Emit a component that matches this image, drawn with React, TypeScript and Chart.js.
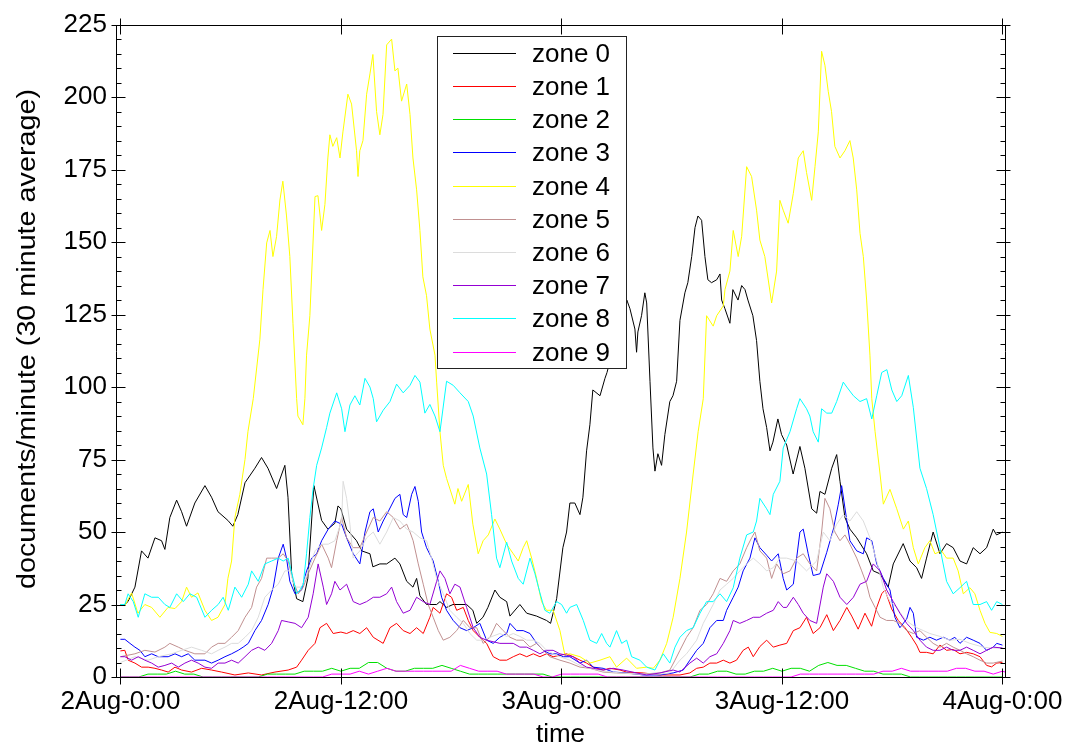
import React, { useEffect, useRef } from "react";
import { Chart, registerables } from "chart.js";

Chart.register(...registerables);

// ---------- axis text ----------
const xTickHours = [0, 12, 24, 36, 48];
const xTickLabels = ["2Aug-0:00", "2Aug-12:00", "3Aug-0:00", "3Aug-12:00", "4Aug-0:00"];
const yTickValues = [0, 25, 50, 75, 100, 125, 150, 175, 200, 225];

const zoneNames = ["zone 0", "zone 1", "zone 2", "zone 3", "zone 4", "zone 5", "zone 6", "zone 7", "zone 8", "zone 9"];
const zoneColors = ["#000000", "#ff0000", "#00e000", "#0000ff", "#ffff00", "#c09090", "#dcdcdc", "#9400d3", "#00ffff", "#ff00ff"];

// ---------- data: documents/minute (30 minute average); time in hours since 2Aug-0:00 ----------
const zone0Time = [
  0, 0.24, 0.41, 0.79, 1.15, 1.5, 1.88, 2.24, 2.42, 2.69, 3.06, 3.33, 3.6, 4.05, 4.6, 4.96, 5.31, 5.85, 6.12, 6.39,
  6.78, 7.32, 7.68, 8.03, 8.5, 8.95, 9.12, 9.32, 9.59, 9.93, 10.2, 10.53, 10.95, 11.29, 11.67, 11.84, 12.0, 12.31, 12.85, 13.13,
  13.58, 13.74, 14.12, 14.49, 14.94, 15.21, 15.58, 15.92, 16.12, 16.3, 16.66, 17.21, 17.39, 17.75, 18.1, 18.84, 19.18, 19.39, 19.73, 20.0,
  20.38, 20.65, 21.02, 21.2, 21.74, 22.11, 22.65, 23.19, 23.41, 23.74, 24.08, 24.28, 24.46, 24.73, 25.01, 25.17, 25.37, 25.55, 25.71, 26.1,
  26.37, 26.48, 27.02, 27.56, 27.73, 28.0, 28.09, 28.16, 28.36, 28.54, 28.64, 28.82, 28.98, 29.09, 29.25, 29.45, 29.63, 29.9, 30.07, 30.27,
  30.45, 30.72, 30.88, 31.09, 31.27, 31.43, 31.63, 31.81, 31.97, 32.17, 32.45, 32.63, 32.72, 32.9, 33.17, 33.33, 33.61, 33.81, 33.99, 34.15,
  34.42, 34.62, 34.8, 34.97, 35.17, 35.35, 35.51, 35.78, 35.98, 36.26, 36.61, 36.98, 37.25, 37.62, 37.89, 38.07, 38.34, 38.71, 38.98, 39.16,
  39.43, 39.7, 40.07, 40.61, 40.97, 41.33, 41.78, 42.06, 42.6, 42.97, 43.33, 43.6, 43.87, 44.23, 44.6, 44.96, 45.32, 45.69, 46.05, 46.41,
  46.78, 47.14, 47.5, 47.68, 48.0,
];
const zone0 = [
  25, 25, 26, 31, 43.5, 41, 48, 47, 44, 55, 61, 57, 52, 60, 66, 62, 57, 54, 52, 56,
  67, 72, 75.7, 72, 65, 73, 62, 35.6, 27, 26, 34, 66, 54, 51, 53, 59, 58, 51, 47, 43.5,
  42.5, 38, 39, 39, 41, 39, 33, 31, 34, 28, 25, 25, 26, 24, 25, 25, 23, 18.5, 20.6, 24,
  30, 27.5, 26, 21, 25, 22, 21, 19.5, 18.5, 27, 44.6, 50, 60, 60, 56, 62, 78, 87, 99, 97,
  103, 105, 118, 130, 127, 120, 112, 119, 124.6, 132.5, 129, 102, 79, 71, 77, 73, 83.6, 95, 97, 102,
  123, 132.5, 136, 145, 155, 159, 157.5, 145, 137, 136, 137, 139, 130, 127, 122, 133.6, 130, 135, 133.6, 130,
  124.6, 116, 102, 92.5, 86, 78, 81, 89, 83.6, 80, 70, 79.5, 72, 58, 56.5, 64, 63, 72, 76.7, 67.5,
  55, 51, 48, 42.5, 36.6, 35.6, 31, 39, 46, 40, 37.7, 34, 41, 50, 42.5, 46, 44.6, 40, 39, 44.6,
  42.5, 44.6, 51, 49, 50,
];

// [time, value] readings
const zone1: [number, number][] = [
  [0, 9], [0.24, 9.2], [0.42, 5.8], [0.79, 4.8], [1.15, 3.4], [1.51, 3.4], [1.88, 3], [2.24, 2.4], [2.6, 1.7], [2.97, 3.4],
  [3.33, 2.4], [3.87, 1.7], [4.42, 3], [4.96, 2.4], [5.51, 1.7], [6.23, 0.7], [6.96, 1.4], [7.68, 0.7], [8.41, 1.7], [9.13, 2.4],
  [9.59, 3.4], [9.86, 5.8], [10.22, 9.2], [10.59, 11.6], [10.86, 17], [11.22, 18.5], [11.58, 15], [12.0, 15.5], [12.31, 15], [12.67, 16],
  [13.03, 15], [13.4, 17], [13.76, 13.7], [14.3, 11.6], [14.67, 17], [15.03, 18.5], [15.39, 16], [15.76, 15], [16.12, 17], [16.48, 15],
  [16.84, 20.6], [17.02, 24], [17.39, 22], [17.75, 28.7], [18.02, 27.5], [18.3, 23], [18.66, 24], [18.93, 19.5], [19.2, 16], [19.56, 13.7],
  [19.93, 11.6], [20.29, 7], [20.65, 5.8], [21.02, 5.8], [21.38, 7], [21.74, 8], [22.11, 7], [22.47, 8], [22.83, 7], [23.19, 8],
  [23.55, 7], [23.92, 7.5], [24.28, 8], [24.64, 7], [25.01, 5.8], [25.37, 4.8], [25.73, 3.4], [26.27, 2.4], [26.64, 3], [27.19, 2.4],
  [27.55, 1.7], [28.45, 1.4], [29.36, 0.7], [30.45, 0.7], [30.99, 1.4], [31.36, 3], [31.72, 3.4], [32.08, 4.8], [32.45, 4.8], [32.81, 5.8],
  [33.17, 4.8], [33.53, 5.8], [33.89, 9.2], [34.17, 10.3], [34.44, 7], [34.8, 10.5], [35.17, 12.7], [35.53, 10.3], [35.89, 11], [36.26, 11.6],
  [36.62, 16], [36.98, 17], [37.34, 20.6], [37.7, 15], [38.07, 17], [38.44, 21.5], [38.8, 16], [39.16, 19.5], [39.53, 24], [39.8, 21],
  [40.15, 16.5], [40.52, 22], [40.88, 17.5], [41.16, 24], [41.43, 28.7], [41.61, 30], [41.97, 23.5], [42.33, 19.5], [42.7, 17], [43.06, 13.7],
  [43.33, 11], [43.51, 8.5], [43.87, 8.5], [44.23, 8], [44.6, 11], [44.96, 9.2], [45.32, 9.5], [45.69, 8], [46.05, 8.5], [46.41, 8],
  [46.78, 7], [47.14, 4], [47.41, 3.5], [47.69, 4.8], [48.0, 5],
];

// one value per half hour, 2Aug-0:00 .. 4Aug-0:00
const zone2 = [
  0, 0, 0, 1, 1, 1, 2, 1, 1, 0, 0, 0, 0, 0, 0, 0, 1, 1, 1, 1, 2, 2, 2, 3,
  2, 3, 3, 5, 5, 3, 2, 2, 3, 3, 3, 4, 3, 2, 1, 1, 1, 1, 1, 1, 1, 1, 1, 0,
  0, 0, 0, 0, 0, 0, 0, 0, 0, 0, 0, 0, 0, 0, 0, 1, 1, 2, 2, 1, 1, 2, 2, 3,
  2, 3, 3, 2, 4, 5, 4, 4, 3, 2, 2, 1, 1, 1, 0, 0, 0, 0, 0, 0, 0, 0, 0, 0, 0,
];

const zone3: [number, number][] = [
  [0, 13], [0.24, 13], [0.52, 11.6], [0.79, 10.3], [1.06, 9.2], [1.33, 7], [1.7, 8], [2.06, 7], [2.6, 7], [2.97, 8],
  [3.33, 7], [3.69, 8], [4.05, 5.8], [4.6, 5.8], [4.96, 4.8], [5.32, 5.8], [5.69, 7], [6.05, 8], [6.41, 9.2], [6.68, 10.3],
  [6.96, 11.6], [7.32, 16], [7.68, 19.5], [8.04, 25], [8.32, 31], [8.59, 41], [8.86, 45.8], [9.04, 41], [9.22, 33], [9.5, 28.7],
  [9.86, 30], [10.13, 36.6], [10.41, 41], [10.68, 42.5], [10.95, 47], [11.31, 51], [11.67, 53.8], [12.04, 52.7], [12.31, 48], [12.67, 42.5],
  [13.03, 39], [13.31, 50], [13.58, 57], [13.76, 58], [14.03, 50], [14.3, 53.8], [14.57, 57], [14.94, 61.6], [15.21, 63], [15.39, 56],
  [15.58, 55], [15.85, 63], [16.03, 65.7], [16.21, 60.6], [16.39, 50], [16.66, 44.6], [17.02, 40], [17.3, 33], [17.48, 27.5], [17.75, 23],
  [18.11, 19.5], [18.48, 17], [18.84, 16], [19.2, 17], [19.56, 18.5], [19.93, 12.7], [20.29, 11.6], [20.65, 13.7], [21.02, 15], [21.2, 18.5],
  [21.56, 16], [21.92, 16], [22.29, 15], [22.65, 11.6], [23.01, 9.2], [23.37, 8], [23.74, 8], [24.1, 7], [24.46, 7], [25.01, 4.8],
  [25.37, 5.8], [25.73, 3.4], [26.27, 3], [26.82, 1.7], [27.55, 1.4], [28.45, 0.7], [29.36, 0.7], [30.08, 1.4], [30.63, 2.4], [30.99, 5.8],
  [31.36, 9.2], [31.72, 11.6], [32.08, 17], [32.45, 19.5], [32.81, 19.5], [32.99, 23], [33.35, 27.5], [33.62, 31], [33.89, 36.6], [34.26, 41],
  [34.53, 48], [34.8, 44.6], [35.17, 42], [35.44, 40], [35.8, 42.5], [36.07, 34], [36.26, 30], [36.62, 32], [36.98, 50], [37.16, 51],
  [37.43, 42.5], [37.7, 35], [38.07, 35.6], [38.44, 43], [38.8, 51], [39.07, 59.6], [39.25, 66], [39.53, 54], [39.7, 47], [40.07, 43.5],
  [40.43, 42.5], [40.61, 48], [40.89, 47], [41.16, 39], [41.52, 34], [41.88, 30], [42.15, 20.6], [42.42, 17], [42.79, 20], [42.97, 24],
  [43.15, 22], [43.33, 13.7], [43.7, 12.7], [44.05, 13.7], [44.41, 12.7], [44.78, 13.7], [45.14, 12.7], [45.41, 13.7], [45.69, 11.6], [46.05, 13.7],
  [46.41, 12.7], [46.78, 11.6], [47.14, 9.2], [47.5, 10.3], [47.69, 11.6], [48.0, 11],
];

const zone4Time = [
  0, 0.24, 0.61, 0.95, 1.33, 1.7, 2.15, 2.59, 2.97, 3.33, 3.6, 3.87, 4.22, 4.6, 4.96, 5.31, 5.69, 5.85, 6.05, 6.23,
  6.5, 6.78, 6.94, 7.23, 7.59, 7.76, 7.96, 8.14, 8.3, 8.5, 8.68, 8.84, 9.04, 9.22, 9.39, 9.59, 9.66, 9.93, 10.04, 10.13,
  10.31, 10.59, 10.75, 10.95, 11.13, 11.29, 11.4, 11.56, 11.77, 11.95, 12.11, 12.38, 12.58, 12.85, 12.93, 13.03, 13.2, 13.4, 13.58, 13.74,
  13.94, 14.12, 14.29, 14.49, 14.76, 14.94, 15.1, 15.3, 15.58, 15.76, 15.92, 16.12, 16.3, 16.46, 16.66, 16.84, 17.12, 17.21, 17.39, 17.57,
  17.75, 18.2, 18.37, 18.57, 18.93, 19.18, 19.47, 19.74, 20.02, 20.38, 20.65, 21.02, 21.38, 21.65, 21.92, 22.11, 22.38, 22.65, 22.92, 23.19,
  23.55, 23.92, 24.19, 24.46, 25.01, 25.55, 26.1, 26.64, 27.0, 27.55, 28.09, 28.64, 29.0, 29.36, 29.73, 30.08, 30.45, 30.81, 31.17, 31.44,
  31.72, 31.9, 32.26, 32.45, 32.81, 32.9, 33.17, 33.35, 33.62, 33.81, 34.08, 34.35, 34.62, 34.8, 35.07, 35.44, 35.71, 35.89, 36.07, 36.34,
  36.62, 36.89, 37.16, 37.34, 37.62, 37.8, 37.98, 38.16, 38.34, 38.52, 38.7, 38.88, 39.16, 39.43, 39.7, 39.88, 40.07, 40.25, 40.43, 40.61,
  40.79, 40.89, 41.07, 41.34, 41.52, 41.88, 42.25, 42.61, 42.88, 43.15, 43.42, 43.78, 44.05, 44.33, 44.69, 44.96, 45.32, 45.59, 45.87, 46.23,
  46.5, 46.78, 47.05, 47.32, 47.69, 48.0,
];
const zone4 = [
  25, 24.6, 29, 22, 25, 24, 20.6, 24, 23.6, 26, 31, 27.5, 29, 23, 19.5, 20.6, 25, 34, 40, 55,
  63, 75, 84.6, 96, 116.5, 133.6, 149.7, 154, 145, 152, 164.5, 171, 159, 145, 122, 96, 90, 87, 96, 111,
  124.6, 165.7, 166, 154, 163, 179, 187, 183, 186, 179, 188, 201, 197.6, 181.5, 172.6, 181.5, 185, 201, 208, 214.7,
  195, 187, 194, 218, 220, 209, 210, 198.6, 204.5, 194, 179, 168, 154, 138, 131.5, 120, 111, 101.7, 84.6, 73,
  68.5, 59.6, 65, 60.6, 66.4, 52.7, 42.5, 47, 49, 54.5, 51, 45.8, 42.5, 40, 44.6, 47, 41, 34, 26, 23,
  23, 16, 7.5, 8, 7, 4.8, 5.8, 7, 3.4, 6.5, 3, 3.4, 3, 5.8, 11.6, 20.6, 34, 50, 70, 84.6,
  96, 124.6, 121, 124.6, 128, 133.6, 140, 154, 145, 152, 176, 172.6, 161, 150.7, 145, 129, 140, 164.4, 161, 156.5,
  166.8, 179, 181.5, 174, 164.4, 176, 188, 215.8, 211, 202, 195, 183, 179, 181.5, 185, 179, 168, 153, 145, 130,
  111, 96, 84.6, 70, 59.6, 64.7, 58, 51, 53.8, 44.6, 39, 44.6, 47, 42.5, 43.5, 41, 41, 36.6, 28.7, 30.8,
  28.7, 23, 18.5, 15.4, 15, 14,
];

const zone5: [number, number][] = [
  [0, 7], [0.79, 8], [1.33, 9.2], [1.88, 8.6], [2.42, 10.3], [2.69, 11.6], [3.15, 10.3], [3.51, 9.2], [4.05, 8], [4.6, 8],
  [4.96, 10.3], [5.32, 11.6], [5.69, 11.6], [6.05, 13.7], [6.41, 16], [6.78, 20.6], [7.14, 24], [7.41, 31], [7.68, 34], [7.96, 41],
  [8.23, 41], [8.59, 41], [8.86, 42.5], [9.13, 40], [9.4, 33], [9.68, 28.7], [9.95, 31], [10.22, 35.6], [10.59, 41], [10.95, 45.8],
  [11.31, 41], [11.49, 37.7], [11.77, 47], [12.04, 55], [12.31, 48], [12.67, 44.6], [13.03, 44.6], [13.4, 50], [13.76, 55], [14.12, 53.8],
  [14.49, 57], [14.85, 55], [15.21, 51], [15.58, 52.7], [15.76, 50], [15.93, 47], [16.21, 39], [16.48, 32], [16.75, 25], [17.02, 20.6],
  [17.3, 16], [17.57, 12.7], [17.93, 13.7], [18.3, 16], [18.66, 19.5], [19.02, 17], [19.39, 17], [19.74, 11.6], [20.11, 13.7], [20.47, 18.5],
  [20.83, 16], [21.2, 13.7], [21.56, 12.7], [21.92, 12.7], [22.29, 10.3], [22.65, 11.6], [23.01, 9.2], [23.37, 7], [23.92, 5.8], [24.46, 4.8],
  [25.01, 3.4], [25.55, 3], [26.27, 1.7], [27.0, 1.4], [28.27, 1], [29.36, 1.4], [29.9, 2.4], [30.18, 5.8], [30.45, 9.2], [30.81, 13.7],
  [31.17, 17], [31.54, 23], [31.9, 25], [32.26, 28.7], [32.63, 34], [32.99, 33], [33.35, 36.6], [33.71, 39], [34.08, 44.6], [34.35, 48],
  [34.53, 50], [34.8, 43.5], [35.17, 41], [35.44, 34], [35.71, 39], [36.07, 35.6], [36.44, 36.6], [36.8, 41], [37.16, 42.5], [37.52, 39],
  [37.89, 36.6], [38.16, 50], [38.34, 61.6], [38.61, 58], [38.88, 50], [39.16, 47], [39.43, 49], [39.7, 45.8], [40.07, 41], [40.34, 36.6],
  [40.61, 32], [40.79, 27.5], [41.07, 24], [41.34, 20.6], [41.7, 19.5], [42.06, 19.5], [42.42, 18.5], [42.79, 16], [43.15, 15], [43.51, 16],
  [43.87, 13.7], [44.23, 11.6], [44.6, 10.3], [44.96, 11.6], [45.32, 10.3], [45.69, 9.2], [46.05, 8], [46.41, 7], [46.78, 5.8], [47.14, 4.8],
  [47.5, 4.8], [48.0, 5.5],
];

const zone6: [number, number][] = [
  [0, 5], [0.79, 7], [1.51, 5.8], [2.06, 7], [2.79, 8], [3.33, 9.2], [3.87, 10.3], [4.42, 9.2], [4.96, 8], [5.32, 9.2],
  [5.69, 10.3], [6.05, 11.6], [6.41, 11.6], [6.78, 13.7], [7.14, 16], [7.5, 20.6], [7.86, 27.5], [8.23, 30], [8.59, 32], [8.95, 36.6],
  [9.22, 36.6], [9.5, 31], [9.86, 31], [10.22, 36.6], [10.59, 43.5], [10.95, 45.8], [11.31, 45.8], [11.67, 47], [12.04, 53.8], [12.12, 67.5],
  [12.31, 61.6], [12.49, 52.7], [12.67, 41], [13.03, 43.5], [13.4, 48], [13.76, 50], [14.12, 45.8], [14.49, 50], [14.85, 55], [15.21, 53.8],
  [15.58, 51], [15.93, 50], [16.3, 48], [16.66, 47], [16.93, 41], [17.21, 34], [17.57, 28.7], [17.93, 23], [18.3, 20.6], [18.66, 18.5],
  [19.02, 15], [19.39, 12.7], [19.74, 12.7], [20.11, 13.7], [20.65, 15], [21.02, 14], [21.38, 15], [21.74, 14], [22.11, 12.7], [22.47, 12.7],
  [22.83, 11.6], [23.19, 9.2], [23.55, 8], [23.92, 7], [24.46, 5.8], [25.01, 4], [25.55, 3], [26.27, 2], [27.19, 1.4], [28.27, 1],
  [29.36, 1], [29.9, 1.4], [30.45, 5.8], [30.81, 8], [31.36, 12.7], [31.72, 18.5], [32.26, 25], [32.63, 30], [32.99, 32], [33.35, 34],
  [33.71, 36.6], [34.08, 39], [34.44, 41], [34.8, 39], [35.17, 36.6], [35.53, 37.7], [35.89, 41], [36.26, 41], [36.8, 40], [37.34, 36.6],
  [37.89, 40], [38.25, 50], [38.61, 47], [38.98, 52.7], [39.34, 56], [39.7, 53.8], [40.07, 57], [40.43, 53.8], [40.79, 48], [41.16, 40],
  [41.52, 30.8], [41.88, 26], [42.25, 24], [42.61, 20.6], [42.97, 18.5], [43.33, 17], [43.7, 16], [44.05, 15], [44.6, 14], [45.14, 12.7],
  [45.69, 13], [46.23, 11.6], [46.96, 10.3], [47.32, 10], [48.0, 10],
];

const zone7: [number, number][] = [
  [0, 7], [0.24, 7], [0.61, 5.8], [0.97, 7], [1.33, 5.8], [1.7, 4.8], [2.06, 3.4], [2.42, 4], [2.79, 4.8], [3.15, 3.4],
  [3.51, 4.8], [3.87, 5.8], [4.23, 4.8], [4.6, 3.4], [4.96, 3], [5.32, 4.8], [5.69, 4.8], [6.05, 5.8], [6.41, 4.8], [6.78, 7],
  [7.14, 9.2], [7.5, 10.3], [7.86, 9.2], [8.23, 11.6], [8.59, 16], [8.77, 19.5], [9.13, 19], [9.5, 18.5], [9.86, 17], [10.22, 20.6],
  [10.49, 28.7], [10.76, 39], [11.04, 31], [11.22, 25], [11.49, 28.7], [11.67, 33], [11.95, 30], [12.31, 32], [12.67, 26], [13.03, 25],
  [13.4, 26], [13.76, 27.5], [14.12, 27.5], [14.49, 28.7], [14.76, 31], [15.03, 26], [15.39, 22], [15.76, 23], [16.12, 27.5], [16.48, 26],
  [16.84, 25], [17.21, 33], [17.39, 36.6], [17.66, 34], [17.93, 28.7], [18.2, 32], [18.48, 31], [18.84, 24], [19.2, 17], [19.56, 13.7],
  [19.93, 12.7], [20.65, 11.6], [21.38, 11.6], [21.74, 10.3], [22.11, 10.3], [22.47, 9.2], [22.83, 8], [23.19, 9.2], [23.55, 9.2], [23.92, 8],
  [24.28, 7.5], [24.64, 7], [25.01, 4.8], [25.37, 3.4], [25.73, 3], [26.27, 2.4], [26.82, 3], [27.36, 2.4], [28.09, 1.4], [28.64, 0.7],
  [29.36, 1.4], [30.08, 2.4], [30.45, 1.7], [30.99, 4.8], [31.36, 6.5], [31.72, 4.8], [32.08, 7], [32.45, 8], [32.81, 11.6], [33.17, 16],
  [33.35, 19.5], [33.71, 18.5], [34.08, 19.5], [34.44, 20.6], [34.8, 20.6], [35.17, 22], [35.53, 23], [35.8, 26], [36.07, 24], [36.26, 24],
  [36.62, 27.5], [36.89, 25], [37.16, 22], [37.52, 19.5], [37.89, 18.5], [38.25, 31], [38.44, 35.6], [38.8, 33], [39.16, 27.5], [39.53, 25],
  [39.89, 27.5], [40.25, 32], [40.61, 33], [40.97, 39], [41.34, 36.6], [41.7, 30], [42.06, 26], [42.42, 22], [42.79, 18.5], [43.15, 16],
  [43.51, 12.7], [43.87, 10.3], [44.23, 9.2], [44.6, 9.2], [44.96, 10.3], [45.32, 9.2], [45.69, 9.2], [46.05, 10.3], [46.41, 9.2], [46.78, 8],
  [47.14, 9.2], [47.5, 10.3], [48.0, 10],
];

const zone8Time = [
  0, 0.24, 0.42, 0.7, 0.97, 1.33, 1.7, 2.06, 2.42, 2.69, 3.06, 3.42, 3.78, 4.15, 4.6, 4.96, 5.32, 5.59, 5.87, 6.23,
  6.6, 6.96, 7.14, 7.5, 7.86, 8.23, 8.59, 8.86, 9.13, 9.4, 9.59, 9.77, 9.95, 10.13, 10.31, 10.49, 10.68, 10.95, 11.22, 11.4,
  11.77, 12.04, 12.22, 12.49, 12.76, 13.03, 13.31, 13.58, 13.76, 13.94, 14.3, 14.67, 15.03, 15.39, 15.76, 16.03, 16.3, 16.57, 16.84, 17.12,
  17.39, 17.75, 18.11, 18.48, 18.93, 19.2, 19.56, 19.93, 20.2, 20.47, 20.65, 21.02, 21.29, 21.65, 21.92, 22.29, 22.56, 22.83, 23.1, 23.37,
  23.74, 24.01, 24.28, 24.46, 24.83, 25.19, 25.55, 25.92, 26.19, 26.46, 26.64, 27.0, 27.28, 27.55, 27.82, 28.27, 28.64, 29.09, 29.36, 29.54,
  29.9, 30.18, 30.45, 30.81, 31.17, 31.54, 31.9, 32.26, 32.63, 32.99, 33.35, 33.71, 34.08, 34.44, 34.62, 34.8, 35.17, 35.35, 35.53, 35.89,
  36.07, 36.44, 36.8, 36.98, 37.34, 37.52, 37.7, 37.98, 38.16, 38.44, 38.71, 38.98, 39.34, 39.53, 39.89, 40.25, 40.61, 40.89, 41.16, 41.43,
  41.71, 41.98, 42.25, 42.52, 42.88, 43.15, 43.51, 43.87, 44.23, 44.6, 44.96, 45.32, 45.69, 46.05, 46.41, 46.78, 47.14, 47.41, 47.69, 48.0,
];
const zone8 = [
  25, 25, 28.7, 26, 20.6, 28.7, 27.5, 27.5, 25, 24, 28.7, 26, 28.7, 27.5, 20.6, 23, 25, 27.5, 23, 31,
  27.5, 32, 36.6, 33, 39, 40, 41, 40, 41, 34, 28.7, 30, 32, 42.5, 55, 65, 73, 79, 86, 91,
  98, 92.5, 84.6, 93.8, 97, 93.8, 103, 100, 96, 88, 92, 95, 101, 98, 100.6, 104, 101.7, 91, 94, 90,
  84.6, 102, 100.6, 98, 95, 90, 79, 70, 56, 41, 37.7, 46.5, 40, 34, 32, 41, 35.6, 29, 23, 22,
  26, 25, 22, 24, 25, 19.5, 12.7, 11.6, 15, 11.6, 10.3, 16, 11.6, 12.7, 7, 5.8, 3.4, 2.4, 5.8, 8,
  4.8, 10.3, 13.7, 16, 17, 22, 26, 26, 28.7, 26, 30.8, 41, 49, 50, 53.8, 61.6, 58, 56, 63, 67.5,
  79, 84.6, 92.5, 96, 92.5, 90, 84.6, 81, 92.5, 91, 91, 95, 101.7, 100, 97, 95, 96, 89, 97, 105,
  106, 99, 95, 97, 104, 93, 72, 65, 56, 44.6, 33, 28.7, 30.8, 33, 25, 25, 26, 23, 26, 25,
];

const zone9 = [
  0, 0, 0, 0, 0, 0, 0, 0, 0, 0, 0, 0, 0, 0, 0, 0, 0, 0, 0, 0, 0, 0, 0, 1,
  1, 1, 2, 1, 2, 3, 2, 2, 2, 2, 2, 2, 2, 4, 3, 2, 2, 2, 1, 1, 1, 1, 0, 0,
  1, 1, 1, 1, 1, 0, 0, 0, 0, 0, 0, 0, 0, 0, 0, 0, 0, 0, 0, 0, 0, 0, 0, 0,
  0, 0, 1, 1, 1, 1, 1, 1, 1, 1, 1, 2, 2, 3, 2, 2, 2, 2, 2, 3, 3, 2, 2, 1, 2, 1,
];

const toPointsParallel = (times: number[], vals: number[]) => vals.map((v, j) => ({ x: times[j], y: v }));
const toPointsHalfHour = (vals: number[]) => vals.map((v, j) => ({ x: j / 2, y: v }));
const toPointsPairs = (pairs: [number, number][]) => pairs.map(([t, v]) => ({ x: t, y: v }));

const FONT = "'Liberation Sans', Arial, Helvetica, sans-serif";
const yTitle = "documents/minute (30 minute average)";

const gnuplotPlugin = {
  id: "gnuplotFrame",
  afterDatasetsDraw(chart: any) {
    const { ctx, chartArea: a, scales } = chart;
    const xs = scales.x;
    const ys = scales.y;
    const L = Math.round(a.left) + 0.5;
    const R = Math.round(a.right) + 0.5;
    const T = Math.round(a.top) + 0.5;
    const B = Math.round(a.bottom) + 0.5;
    ctx.save();
    ctx.strokeStyle = "#000";
    ctx.lineWidth = 1;
    ctx.beginPath();
    ctx.rect(L, T, R - L, B - T);
    for (let v = 0; v <= 225; v += 5) {
      const y = Math.round(ys.getPixelForValue(v)) + 0.5;
      const major = v % 25 === 0;
      const len = major ? 9 : 5;
      const out = major ? 5 : 0;
      ctx.moveTo(L - out, y);
      ctx.lineTo(L + len, y);
      ctx.moveTo(R + out, y);
      ctx.lineTo(R - len, y);
    }
    for (const h of xTickHours) {
      const x = Math.round(xs.getPixelForValue(h)) + 0.5;
      ctx.moveTo(x, B + 7);
      ctx.lineTo(x, B - 9);
      ctx.moveTo(x, T - 7);
      ctx.lineTo(x, T + 9);
    }
    ctx.stroke();
    ctx.restore();
  },
  afterDraw(chart: any) {
    const { ctx } = chart;
    ctx.save();
    ctx.fillStyle = "#000";
    ctx.font = `26px ${FONT}`;
    ctx.textAlign = "center";
    ctx.textBaseline = "middle";
    const w = ctx.measureText(yTitle).width;
    ctx.translate(28, 339);
    ctx.rotate(-Math.PI / 2);
    ctx.scale(500 / w, 1);
    ctx.fillText(yTitle, 0, 0);
    ctx.restore();

    const bx = 437.5, by = 36.5, bw = 189, bh = 332;
    ctx.save();
    ctx.fillStyle = "#fff";
    ctx.fillRect(bx, by, bw, bh);
    ctx.strokeStyle = "#222";
    ctx.lineWidth = 1;
    ctx.strokeRect(bx, by, bw, bh);
    ctx.font = `26px ${FONT}`;
    ctx.textAlign = "left";
    ctx.textBaseline = "middle";
    zoneNames.forEach((name, i) => {
      const y = Math.round(52.7 + i * 33.2) + 0.5;
      ctx.strokeStyle = zoneColors[i];
      ctx.lineWidth = 1;
      ctx.beginPath();
      ctx.moveTo(453, y);
      ctx.lineTo(516, y);
      ctx.stroke();
      ctx.fillStyle = "#000";
      ctx.fillText(name, 532, y + 1);
    });
    ctx.restore();
  },
};

export default function App() {
  const canvasRef = useRef<HTMLCanvasElement | null>(null);

  useEffect(() => {
    const canvas = canvasRef.current;
    if (!canvas) return;
    const seriesPoints = [
      toPointsParallel(zone0Time, zone0),
      toPointsPairs(zone1),
      toPointsHalfHour(zone2),
      toPointsPairs(zone3),
      toPointsParallel(zone4Time, zone4),
      toPointsPairs(zone5),
      toPointsPairs(zone6),
      toPointsPairs(zone7),
      toPointsParallel(zone8Time, zone8),
      toPointsHalfHour(zone9),
    ];
    const datasets = seriesPoints.map((pts, i) => ({
      label: zoneNames[i],
      data: pts,
      borderColor: zoneColors[i],
      backgroundColor: zoneColors[i],
      borderWidth: 1,
      pointRadius: 0,
      tension: 0,
      fill: false,
      order: 9 - i,
    }));
    const chart = new Chart(canvas, {
      type: "line",
      data: { datasets },
      options: {
        responsive: false,
        animation: false,
        devicePixelRatio: 1,
        layout: { padding: { top: 20, right: 68, left: 0, bottom: 0 } },
        plugins: { legend: { display: false }, tooltip: { enabled: false }, title: { display: false } },
        scales: {
          x: {
            type: "linear",
            min: -0.24,
            max: 48.14,
            grid: { display: false, drawTicks: false },
            border: { display: false },
            afterBuildTicks: (scale: any) => {
              scale.ticks = xTickHours.map((v) => ({ value: v }));
            },
            afterFit: (scale: any) => {
              scale.height = 74;
            },
            ticks: {
              autoSkip: false,
              maxRotation: 0,
              padding: 9,
              color: "#000",
              font: { family: FONT, size: 26 },
              callback: (value: any) => {
                const k = xTickHours.indexOf(Number(value));
                return k >= 0 ? xTickLabels[k] : "";
              },
            },
            title: {
              display: true,
              text: "time",
              color: "#000",
              font: { family: FONT, size: 26 },
              padding: { top: 0, bottom: 1 },
            },
          },
          y: {
            type: "linear",
            min: 0,
            max: 225,
            grid: { display: false, drawTicks: false },
            border: { display: false },
            afterBuildTicks: (scale: any) => {
              scale.ticks = yTickValues.map((v) => ({ value: v }));
            },
            afterFit: (scale: any) => {
              scale.width = 116;
            },
            ticks: {
              padding: 9,
              color: "#000",
              font: { family: FONT, size: 26 },
            },
          },
        },
      },
      plugins: [gnuplotPlugin],
    });
    return () => chart.destroy();
  }, []);

  return (
    <div style={{ position: "fixed", left: 0, top: 0, width: 1073, height: 751, background: "#fff" }}>
      <canvas ref={canvasRef} width={1073} height={751} style={{ display: "block" }} />
    </div>
  );
}
